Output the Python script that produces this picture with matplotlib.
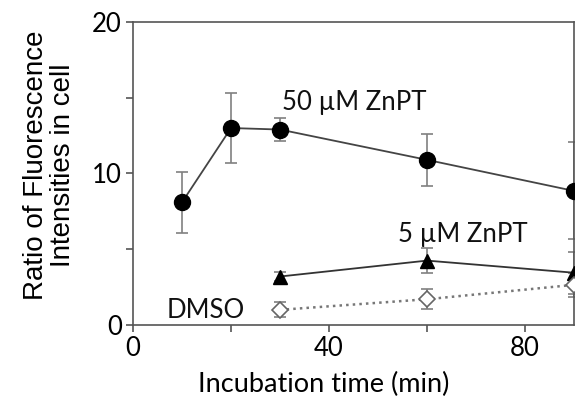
import numpy as np
import matplotlib.pyplot as plt
from matplotlib.ticker import MultipleLocator

# data
t_50 = [10, 20, 30, 60, 90]
zn50 = [8.1, 13.0, 12.9, 10.9, 8.85]
zn50_err = [2.0, 2.3, 0.75, 1.7, 3.2]

t_5 = [30, 60, 90]
zn5 = [3.2, 4.25, 3.45]
zn5_err = [0.3, 0.8, 1.4]

t_dmso = [30, 60, 90]
dmso = [1.0, 1.7, 2.65]
dmso_err = [0.5, 0.65, 0.8]

label_font = 'Lato'

fig = plt.figure(figsize=(5.76, 4.07), dpi=100)
ax = fig.add_axes([0.231, 0.2015, 0.7655, 0.7445])

# 50 uM ZnPT
ax.errorbar(t_50, zn50, yerr=zn50_err, fmt='none', ecolor='#808080',
            elinewidth=1.2, capsize=4, capthick=1.2, zorder=2)
ax.plot(t_50, zn50, '-', color='#444444', lw=1.3, zorder=3)
ax.plot(t_50, zn50, 'o', color='black', ms=11.5, zorder=4)

# 5 uM ZnPT
ax.errorbar(t_5, zn5, yerr=zn5_err, fmt='none', ecolor='#808080',
            elinewidth=1.2, capsize=4, capthick=1.2, zorder=2)
ax.plot(t_5, zn5, '-', color='#333333', lw=1.3, zorder=3)
ax.plot(t_5, zn5, '^', color='black', ms=10, zorder=4)

# DMSO
ax.errorbar(t_dmso, dmso, yerr=dmso_err, fmt='none', ecolor='#808080',
            elinewidth=1.2, capsize=4, capthick=1.2, zorder=2)
ax.plot(t_dmso, dmso, ':', color='#777777', lw=1.8, zorder=3)
ax.plot(t_dmso, dmso, 'D', mfc='white', mec='#666666', mew=1.2, ms=8, zorder=4)

ax.text(30.4, 14.7, '50 µM ZnPT', fontsize=18.5, family=label_font,
        ha='left', va='center', color='#111111')
ax.text(54, 6.0, '5 µM ZnPT', fontsize=18.5, family=label_font,
        ha='left', va='center', color='#111111')
ax.text(22.9, 0.95, 'DMSO', fontsize=18.5, family=label_font,
        ha='right', va='center', color='#111111')

ax.set_xlim(0, 90)
ax.set_ylim(0, 20)
ax.xaxis.set_major_locator(MultipleLocator(40))
ax.xaxis.set_minor_locator(MultipleLocator(20))
ax.yaxis.set_major_locator(MultipleLocator(10))
ax.yaxis.set_minor_locator(MultipleLocator(5))
ax.tick_params(which='both', direction='out', length=5, width=1.2, color='#555555')
ax.tick_params(labelsize=18.5, pad=3)
for lab in ax.get_xticklabels() + ax.get_yticklabels():
    lab.set_family(label_font)

for sp in ax.spines.values():
    sp.set_color('#555555')
    sp.set_linewidth(1.2)

ax.set_xlabel('Incubation time (min)', fontsize=19.5, family=label_font)
ax.xaxis.set_label_coords(0.433, -0.155)
ax.set_ylabel('Ratio of Fluorescence\nIntensities in cell', fontsize=20,
              family='Liberation Sans', linespacing=1.05)
ax.yaxis.set_label_coords(-0.13, 0.528)

fig.savefig('out.png', dpi=100)
